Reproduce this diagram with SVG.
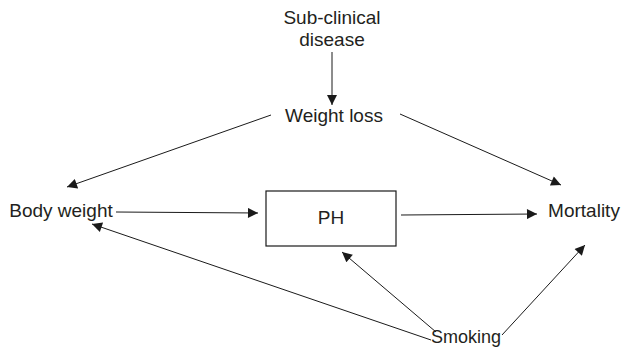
<svg xmlns="http://www.w3.org/2000/svg" width="622" height="349" viewBox="0 0 622 349">
<defs>
<marker id="ah" viewBox="0 0 10 10" refX="10" refY="5" markerWidth="11" markerHeight="10" markerUnits="userSpaceOnUse" orient="auto">
<path d="M0,0 L10,5 L0,10 Z" fill="#1a1a1a"/>
</marker>
</defs>
<style>
text{font-family:"Liberation Sans",Arial,sans-serif;font-size:19px;fill:#231f20;text-anchor:middle}
.c{stroke:#1a1a1a;stroke-width:1;fill:none;marker-end:url(#ah)}
</style>
<rect width="622" height="349" fill="#fff"/>
<g id="subclinical"><text x="332" y="24">Sub-clinical</text><text x="332" y="46">disease</text></g>
<g id="weightloss"><text x="334" y="122">Weight loss</text></g>
<g id="bodyweight"><text x="61" y="217">Body weight</text></g>
<g id="ph"><rect x="266" y="191" width="130" height="55" fill="#fff" stroke="#1a1a1a" stroke-width="1.2"/><text x="331" y="224">PH</text></g>
<g id="mortality"><text x="584" y="217">Mortality</text></g>
<g id="smoking"><text x="466" y="343" style="font-size:18px">Smoking</text></g>
<g id="connectors">
<line class="c" x1="332" y1="52" x2="332" y2="105"/>
<line class="c" x1="271" y1="115" x2="67" y2="187"/>
<line class="c" x1="400" y1="114" x2="561" y2="185"/>
<line class="c" x1="116" y1="212" x2="258" y2="213"/>
<line class="c" x1="401" y1="215" x2="537" y2="214"/>
<line class="c" x1="431" y1="340" x2="92" y2="224"/>
<line class="c" x1="436" y1="332" x2="342" y2="252"/>
<line class="c" x1="502" y1="335" x2="585" y2="245"/>
</g>
</svg>
